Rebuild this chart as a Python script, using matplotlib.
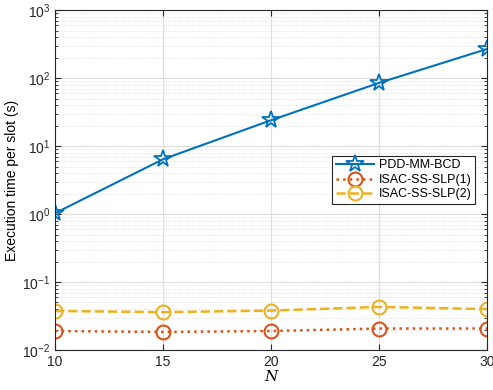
import matplotlib
matplotlib.use("Agg")
import matplotlib.pyplot as plt
from matplotlib.ticker import LogLocator, NullFormatter

plt.rcParams['font.family'] = ['Liberation Sans', 'DejaVu Sans']
plt.rcParams['axes.unicode_minus'] = False

N = [10, 15, 20, 25, 30]
pdd_mm_bcd = [1.03, 6.4, 24, 85, 268]
isac_slp1 = [0.019, 0.0184, 0.019, 0.0207, 0.0207]
isac_slp2 = [0.0375, 0.036, 0.038, 0.043, 0.040]

fig = plt.figure(figsize=(4.93, 3.9), dpi=100)
ax = fig.add_axes([0.1116, 0.1026, 0.8762, 0.8714])

ax.plot(N, pdd_mm_bcd, '-*', color='#0072BD', lw=1.5, ms=13, mfc='none', mew=1.3, label='PDD-MM-BCD')
ax.plot(N, isac_slp1, ':o', color='#D95319', lw=1.8, ms=10, mfc='none', mew=1.5, label='ISAC-SS-SLP(1)')
ax.plot(N, isac_slp2, '--o', color='#EDB120', lw=1.8, ms=10, mfc='none', mew=1.5, label='ISAC-SS-SLP(2)')

ax.set_yscale('log')
ax.set_xlim(10, 30)
ax.set_ylim(1e-2, 1e3)
ax.set_xticks(N)
ax.yaxis.set_major_locator(LogLocator(base=10, numticks=10))
ax.yaxis.set_minor_locator(LogLocator(base=10, subs=range(2, 10), numticks=20))
ax.yaxis.set_minor_formatter(NullFormatter())

ax.grid(True, which='major', color='#dedede', lw=0.8)
ax.grid(True, which='minor', axis='y', color='#d8d8d8', lw=0.6, ls=':')
ax.tick_params(which='both', direction='in', top=True, right=True, labelsize=10, colors='#262626')
ax.tick_params(which='major', length=4)
ax.tick_params(which='minor', length=2)
for s in ax.spines.values():
    s.set_color('#262626')
    s.set_linewidth(0.8)

ax.set_xlabel('N', fontsize=11, family='serif', style='italic', labelpad=1)
ax.set_ylabel('Execution time per slot (s)', fontsize=10, labelpad=2)

leg = ax.legend(loc='upper right', bbox_to_anchor=(0.987, 0.59), fontsize=9,
                fancybox=False, framealpha=1, edgecolor='#262626',
                handlelength=3, borderpad=0.3, labelspacing=0.2, handletextpad=0.4)
leg.get_frame().set_linewidth(0.8)

fig.savefig('out.png', dpi=100)
